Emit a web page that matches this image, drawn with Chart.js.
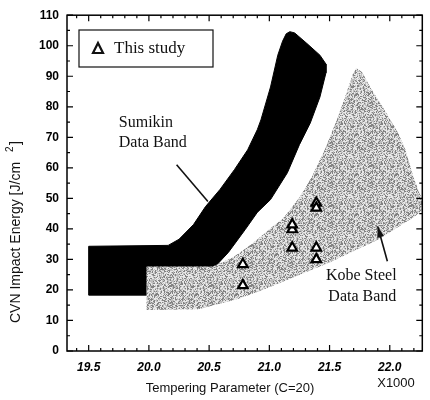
<!DOCTYPE html>
<html>
<head>
<meta charset="utf-8">
<script src="https://cdn.jsdelivr.net/npm/chart.js@4.4.0/dist/chart.umd.min.js"></script>
<style>
  html, body { margin: 0; padding: 0; background: #fff; }
</style>
</head>
<body>
<canvas id="cvnChart" width="430" height="400"></canvas>
<script>
// tick labels
const xTicks = [19.5, 20.0, 20.5, 21.0, 21.5, 22.0];
const yTicks = [0, 10, 20, 30, 40, 50, 60, 70, 80, 90, 100, 110];

// Sumikin data band outline (tempering parameter x1000, CVN energy J/cm2)
const sumikinX = [19.5, 19.5, 20.16, 20.25, 20.37, 20.47, 20.59, 20.71, 20.82, 20.9, 20.93, 21.01, 21.07, 21.11, 21.14, 21.17, 21.21, 21.31, 21.42, 21.47, 21.47, 21.42, 21.34, 21.25, 21.15, 21.01, 20.9, 20.8, 20.66, 20.53, 20.41, 20.25, 19.5];
const sumikinY = [18.3, 34.3, 34.6, 36.6, 41.4, 47.3, 52.9, 59.4, 65.9, 72.5, 75.7, 86.5, 96.9, 101.5, 103.9, 104.6, 104.2, 100.8, 96.9, 94.0, 91.1, 83.2, 74.7, 67.6, 58.4, 49.6, 45.4, 39.8, 32.3, 26.8, 20.2, 18.3, 18.3];

// Kobe Steel data band outline
const kobeX = [19.98, 20.53, 20.7, 20.86, 20.98, 21.12, 21.25, 21.35, 21.46, 21.56, 21.64, 21.69, 21.72, 21.77, 21.84, 21.94, 22.07, 22.13, 22.19, 22.23, 22.27, 22.27, 22.21, 21.91, 21.5, 20.96, 20.74, 20.41, 19.98, 19.98];
const kobeY = [27.7, 27.7, 30.7, 35.2, 39.2, 43.7, 50.3, 56.8, 65.9, 75.7, 84.5, 90.4, 92.7, 91.4, 86.2, 80.0, 71.5, 65.9, 57.8, 53.5, 49.6, 46.3, 44.1, 36.6, 29.0, 20.2, 17.0, 13.7, 13.4, 27.7];

// This study
const studyParam = [20.78, 20.78, 21.19, 21.19, 21.19, 21.39, 21.39, 21.39, 21.39];
const studyEnergy = [28.4, 21.5, 39.8, 41.4, 33.8, 48.5, 46.9, 33.8, 30.0];

const toPoints = (xs, ys) => xs.map((v, i) => ({ x: v, y: ys[i] }));

// speckled grey texture for the Kobe band
function makeStipple() {
  const c = document.createElement("canvas");
  c.width = c.height = 40;
  const g = c.getContext("2d");
  const img = g.createImageData(40, 40);
  for (let i = 0; i < 1600; i++) {
    let h = Math.sin(i * 12.9898 + 78.233) * 43758.5453;
    h = h - Math.floor(h);
    const v = h < 0.3 ? 130 : h < 0.65 ? 190 : 232;
    img.data[i * 4] = v;
    img.data[i * 4 + 1] = v;
    img.data[i * 4 + 2] = v;
    img.data[i * 4 + 3] = 255;
  }
  g.putImageData(img, 0, 0);
  return g.createPattern(c, "repeat");
}

const serif = "Liberation Serif";
const sans = "Liberation Sans";

const frameTicks = {
  id: "frameTicks",
  afterDatasetsDraw(chart) {
    const { ctx, chartArea: a, scales } = chart;
    const x = scales.x, y = scales.y;
    ctx.save();
    ctx.strokeStyle = "#000";
    ctx.lineWidth = 1.2;
    ctx.beginPath();
    for (let i = 194; i <= 222; i++) {
      const px = x.getPixelForValue(i / 10);
      if (px < a.left || px > a.right) continue;
      const len = i % 5 === 0 ? 6 : 3;
      ctx.moveTo(px, a.bottom); ctx.lineTo(px, a.bottom - len);
      ctx.moveTo(px, a.top); ctx.lineTo(px, a.top + len);
    }
    for (let v = 0; v <= 110; v += 5) {
      const py = y.getPixelForValue(v);
      const len = v % 10 === 0 ? 6 : 3;
      ctx.moveTo(a.left, py); ctx.lineTo(a.left + len, py);
      ctx.moveTo(a.right, py); ctx.lineTo(a.right - len, py);
    }
    ctx.stroke();
    ctx.lineWidth = 1.5;
    ctx.strokeRect(a.left, a.top, a.right - a.left, a.bottom - a.top);
    ctx.restore();
  }
};

const notes = {
  id: "notes",
  afterDraw(chart) {
    const { ctx, scales } = chart;
    const x = scales.x, y = scales.y;
    const P = (vx, vy) => [x.getPixelForValue(vx), y.getPixelForValue(vy)];
    ctx.save();
    ctx.strokeStyle = "#111";

    // legend box
    ctx.fillStyle = "#fff";
    ctx.fillRect(79, 30, 134, 37);
    ctx.lineWidth = 1.2;
    ctx.strokeRect(79, 30, 134, 37);
    ctx.lineWidth = 2.2;
    ctx.beginPath();
    ctx.moveTo(98, 43); ctx.lineTo(103, 53); ctx.lineTo(93, 53); ctx.closePath();
    ctx.stroke();
    ctx.fillStyle = "#111";
    ctx.font = "17px " + serif;
    ctx.textBaseline = "middle";
    ctx.textAlign = "left";
    ctx.fillText("This study", 114, 49);

    // band labels
    ctx.font = "16px " + serif;
    let p = P(19.75, 74.7);
    ctx.fillText("Sumikin", p[0], p[1]);
    p = P(19.75, 68.2);
    ctx.fillText("Data Band", p[0], p[1]);
    p = P(21.47, 24.5);
    ctx.fillText("Kobe Steel", p[0], p[1]);
    p = P(21.49, 17.6);
    ctx.fillText("Data Band", p[0], p[1]);

    // pointer lines
    ctx.lineWidth = 1.6;
    let s = P(20.23, 61.0), e = P(20.49, 49.0);
    ctx.beginPath(); ctx.moveTo(s[0], s[1]); ctx.lineTo(e[0], e[1]); ctx.stroke();
    s = P(21.98, 29.4); e = P(21.9, 40.8);
    ctx.beginPath(); ctx.moveTo(s[0], s[1]); ctx.lineTo(e[0], e[1]); ctx.stroke();
    const ang = Math.atan2(e[1] - s[1], e[0] - s[0]);
    ctx.beginPath();
    ctx.moveTo(e[0], e[1]);
    ctx.lineTo(e[0] - 11 * Math.cos(ang) + 3.5 * Math.sin(ang), e[1] - 11 * Math.sin(ang) - 3.5 * Math.cos(ang));
    ctx.lineTo(e[0] - 11 * Math.cos(ang) - 3.5 * Math.sin(ang), e[1] - 11 * Math.sin(ang) + 3.5 * Math.cos(ang));
    ctx.closePath();
    ctx.fill();

    // axis titles
    ctx.font = "13px " + sans;
    ctx.textAlign = "center";
    ctx.fillText("Tempering Parameter (C=20)", 230, 388);
    ctx.fillText("X1000", 396, 383);

    ctx.translate(16, 323);
    ctx.rotate(-Math.PI / 2);
    ctx.textAlign = "left";
    ctx.font = "14px " + sans;
    const main = "CVN Impact Energy [J/cm";
    ctx.fillText(main, 0, 0);
    const w = ctx.measureText(main).width;
    ctx.font = "10px " + sans;
    ctx.fillText("2", w + 10, -6);
    ctx.font = "14px " + sans;
    ctx.fillText("]", w + 17, 0);
    ctx.restore();
  }
};

const ctx = document.getElementById("cvnChart").getContext("2d");

new Chart(ctx, {
  type: "line",
  data: {
    datasets: [
      {
        label: "This study",
        type: "scatter",
        data: toPoints(studyParam, studyEnergy),
        pointStyle: "triangle",
        pointRadius: 5.5,
        pointBackgroundColor: "#fff",
        pointBorderColor: "#000",
        pointBorderWidth: 2.2,
        order: 0,
      },
      {
        label: "Kobe Steel Data Band",
        data: toPoints(kobeX, kobeY),
        fill: "shape",
        backgroundColor: makeStipple(),
        borderWidth: 0,
        pointRadius: 0,
        tension: 0,
        order: 1,
      },
      {
        label: "Sumikin Data Band",
        data: toPoints(sumikinX, sumikinY),
        fill: "shape",
        backgroundColor: "#000",
        borderColor: "#000",
        borderWidth: 1,
        pointRadius: 0,
        tension: 0,
        order: 2,
      },
    ],
  },
  options: {
    responsive: false,
    animation: false,
    layout: { padding: { top: 15, right: 3, left: 0, bottom: 0 } },
    plugins: {
      legend: { display: false },
      tooltip: { enabled: false },
    },
    scales: {
      x: {
        type: "linear",
        min: 19.32,
        max: 22.27,
        grid: { display: false, drawTicks: false },
        border: { display: false },
        afterBuildTicks: (scale) => {
          scale.ticks = xTicks.map((v) => ({ value: v }));
        },
        afterFit: (scale) => { scale.height = 49; },
        ticks: {
          padding: 9,
          maxRotation: 0,
          color: "#000",
          font: { family: sans, size: 12, style: "italic", weight: "bold" },
          callback: (v) => v.toFixed(1),
        },
      },
      y: {
        type: "linear",
        min: 0,
        max: 110,
        grid: { display: false, drawTicks: false },
        border: { display: false },
        afterBuildTicks: (scale) => {
          scale.ticks = yTicks.map((v) => ({ value: v }));
        },
        afterFit: (scale) => { scale.width = 67; },
        ticks: {
          padding: 8,
          color: "#000",
          font: { family: sans, size: 12, weight: "bold" },
        },
      },
    },
  },
  plugins: [frameTicks, notes],
});
</script>
</body>
</html>
